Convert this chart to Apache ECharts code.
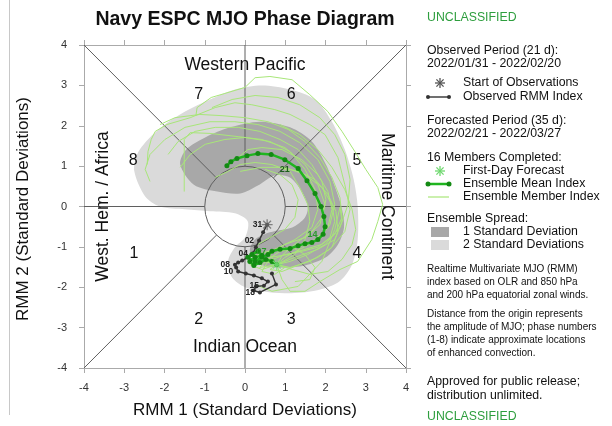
<!DOCTYPE html>
<html><head><meta charset="utf-8">
<script src="https://cdn.jsdelivr.net/npm/echarts/dist/echarts.min.js"></script>
<style>html,body{margin:0;padding:0;background:#fff}#c{width:612px;height:426px}</style>
</head><body><div id="c"></div>
<script>
// ---------- DATA ----------
const xTicks = [-4,-3,-2,-1,0,1,2,3,4];
const yTicks = [-4,-3,-2,-1,0,1,2,3,4];
const phaseNums = ['1','2','3','4','5','6','7','8'];
const phasePos = [[-2.76,-1.16],[-1.15,-2.80],[1.15,-2.80],[2.78,-1.17],[2.78,1.14],[1.15,2.77],[-1.15,2.77],[-2.78,1.14]];
const regionNames = ['Western Pacific','Indian Ocean','West. Hem. / Africa','Maritime Continent'];
const regionPos = [[0,3.49],[0,-3.49],[-3.53,0],[3.53,0]];
const regionRot = [0,0,90,-90];

// observed RMM (2022/01/31 - 2022/02/20)
const obsDays = ['31','01','02','03','04','05','06','07','08','09','10','11','12','13','14','15','16','17','18','19','20'];
const obsX = [0.55,0.45,0.35,0.27,0.20,0.07,-0.07,-0.17,-0.25,-0.22,-0.17,0.02,0.22,0.42,0.57,0.47,0.27,0.22,0.37,0.77,0.67];
const obsY = [-0.45,-0.64,-0.84,-1.01,-1.16,-1.26,-1.34,-1.39,-1.44,-1.51,-1.61,-1.66,-1.71,-1.78,-1.86,-1.96,-1.98,-2.08,-2.13,-1.93,-1.66];
const obsLabelled = ['31','02','04','08','10','15','18'];

// ensemble mean forecast (2022/02/21 - 2022/03/27)
const meanDays = ['21','22','23','24','25','26','27','28','01','02','03','04','05','06','07','08','09','10','11','12','13','14','15','16','17','18','19','20','21','22','23','24','25','26','27'];
const meanX = [0.79,0.67,0.52,0.37,0.22,0.12,0.25,0.42,0.32,0.17,0.07,0.25,0.42,0.57,0.67,0.87,1.12,1.32,1.49,1.66,1.81,1.94,1.99,1.96,1.89,1.74,1.54,1.32,0.99,0.65,0.32,0.05,-0.20,-0.35,-0.45];
const meanY = [-1.44,-1.36,-1.31,-1.39,-1.46,-1.36,-1.26,-1.21,-1.11,-1.19,-1.26,-1.36,-1.26,-1.19,-1.11,-1.06,-1.04,-0.97,-0.92,-0.89,-0.82,-0.69,-0.50,-0.25,0.00,0.32,0.64,0.94,1.16,1.29,1.31,1.26,1.19,1.11,1.01];
const meanLabelIdx = [14,21,28];

// ensemble members
const m01 = [[0.79,-1.44],[0.92,-1.81],[1.12,-2.10],[1.49,-2.10],[1.86,-1.86],[2.36,-1.56],[2.80,-1.36],[3.15,-0.82],[3.30,-0.37],[3.42,0.05],[3.30,0.47],[3.00,0.92],[2.73,1.36],[2.41,1.86],[2.06,2.35],[1.61,2.77],[1.17,3.14],[0.62,3.22],[0.25,3.19],[0.00,2.95],[-0.50,2.80],[-0.84,2.70],[-1.19,2.45],[-1.22,2.25]];
const m02 = [[0.79,-1.44],[1.12,-1.51],[1.61,-1.36],[2.11,-1.06],[2.48,-0.62],[2.61,-0.07],[2.48,0.54],[2.31,1.21],[1.99,1.78],[1.61,2.03],[1.12,2.28],[0.74,2.40],[0.17,2.52],[-0.25,2.57],[-0.74,2.45],[-1.36,2.20],[-1.94,2.03],[-2.23,1.86],[-2.33,1.66],[-2.41,1.36],[-2.43,1.04]];
const m03 = [[0.79,-1.44],[0.99,-1.26],[1.36,-1.06],[1.81,-0.82],[2.11,-0.45],[2.23,0.05],[2.11,0.62],[1.81,1.16],[1.36,1.58],[0.87,1.86],[0.32,2.03],[-0.25,2.10],[-0.87,2.10],[-1.49,1.96],[-1.99,1.66],[-2.36,1.29],[-2.48,0.92],[-2.36,0.62]];
const m04 = [[0.79,-1.44],[0.62,-1.19],[0.99,-0.94],[1.49,-0.77],[1.86,-0.45],[1.99,0.05],[1.81,0.54],[1.49,1.04],[0.99,1.46],[0.42,1.66],[-0.17,1.73],[-0.87,1.81],[-1.36,1.83],[-1.51,1.66],[-1.51,1.16],[-1.51,0.37]];
const m05 = [[0.79,-1.44],[0.42,-1.26],[0.74,-1.06],[1.24,-0.82],[1.66,-0.52],[1.81,-0.07],[1.74,0.42],[1.49,0.92],[1.12,1.36],[0.62,1.61],[0.00,1.71],[-0.50,1.66],[-0.99,1.54],[-1.36,1.29],[-1.61,0.97]];
const m06 = [[0.79,-1.44],[1.24,-1.26],[1.81,-1.06],[2.23,-0.82],[2.41,-0.37],[2.36,-0.02],[2.23,-0.57],[1.91,-1.36],[1.32,-1.98],[0.67,-2.10],[0.25,-1.93]];
const m07 = [[0.79,-1.44],[0.57,-1.31],[0.87,-1.11],[1.32,-1.01],[1.74,-0.82],[2.06,-0.52],[2.16,-0.07],[2.06,0.37],[1.81,0.79],[1.41,1.16],[0.92,1.41],[0.42,1.46],[0.07,1.41],[-0.17,1.21]];
const m08 = [[0.79,-1.44],[0.94,-1.36],[1.24,-1.19],[1.49,-0.82],[1.61,-0.37],[1.56,0.05],[1.36,0.47],[1.12,0.87],[0.67,1.04],[0.25,1.09],[-0.12,1.04],[-0.42,0.87],[-0.74,0.72]];
const m09 = [[0.79,-1.44],[1.17,-1.56],[1.61,-1.68],[2.06,-1.61],[2.41,-1.31],[2.66,-0.94],[2.75,-0.57],[2.66,-0.07],[2.48,0.42],[2.16,0.97],[1.81,1.41],[1.36,1.78],[0.87,2.03]];
const m10 = [[0.79,-1.44],[0.37,-1.51],[0.62,-1.26],[1.07,-1.19],[1.49,-1.06],[1.91,-0.94],[2.23,-0.69],[2.41,-0.27],[2.36,0.22],[2.16,0.72],[1.86,1.21],[1.49,1.61],[1.07,1.91],[0.57,2.10],[0.00,2.20],[-0.57,2.25],[-1.12,2.28],[-1.74,2.20],[-2.11,2.03]];
const m11 = [[0.79,-1.44],[0.50,-1.36],[0.25,-1.19],[0.32,-0.94],[0.62,-0.77],[0.99,-0.57],[1.24,-0.27],[1.32,0.17],[1.17,0.54],[0.87,0.79],[0.50,0.92]];
const m12 = [[0.79,-1.44],[1.12,-1.36],[1.56,-1.19],[1.99,-0.94],[2.36,-0.52],[2.56,0.05],[2.61,0.67],[2.48,1.29],[2.23,1.78],[1.86,2.20],[1.36,2.52],[0.82,2.70],[0.25,2.75],[-0.32,2.65],[-0.82,2.45]];
const m13 = [[0.79,-1.44],[0.42,-1.56],[0.12,-1.44],[0.32,-1.19],[0.74,-1.06],[1.17,-1.01],[1.49,-1.19],[1.74,-1.51],[1.61,-1.81],[1.24,-1.86]];
const m14 = [[0.79,-1.44],[0.94,-1.19],[1.32,-0.87],[1.66,-0.62],[1.91,-0.27],[2.01,0.17],[1.91,0.62],[1.66,1.04],[1.32,1.41],[0.87,1.66],[0.37,1.86],[-0.17,1.96],[-0.74,1.96],[-1.24,1.86],[-1.66,1.61],[-1.91,1.29]];
const m15 = [[0.79,-1.44],[0.62,-1.56],[0.92,-1.61],[1.36,-1.44],[1.81,-1.26],[2.16,-1.01],[2.31,-0.62],[2.26,-0.12],[2.06,0.30],[1.74,0.67],[1.32,0.87],[0.87,0.97]];
const m16 = [[0.79,-1.44],[0.99,-1.51],[0.74,-1.68],[0.42,-1.61],[0.57,-1.36],[0.99,-1.19],[1.41,-1.11],[1.81,-1.01],[2.11,-0.77],[2.23,-0.37],[2.16,0.05],[1.91,0.47],[1.49,0.79],[0.99,0.97],[0.42,0.97],[-0.12,0.87]];
const members = [m01,m02,m03,m04,m05,m06,m07,m08,m09,m10,m11,m12,m13,m14,m15,m16];

// ensemble spread outlines
const spread2sd = [[-2.75,0.87],[-2.68,1.29],[-2.41,1.66],[-1.99,2.03],[-1.49,2.35],[-0.87,2.65],[-0.25,2.90],[0.42,3.00],[1.12,2.90],[1.74,2.65],[2.16,2.10],[2.48,1.41],[2.70,0.67],[2.80,0.00],[2.80,-0.82],[2.66,-1.44],[2.31,-1.88],[1.66,-2.10],[0.99,-2.15],[0.42,-2.10],[0.00,-2.00],[-0.32,-1.76],[-0.42,-1.36],[-0.25,-1.01],[0.00,-0.77],[0.07,-0.37],[-0.25,-0.17],[-0.87,-0.12],[-1.49,-0.07],[-2.11,0.00],[-2.48,0.25]];
const spread1sd = [[-1.61,1.04],[-1.46,1.41],[-0.99,1.71],[-0.37,1.96],[0.37,2.10],[1.12,1.96],[1.66,1.61],[2.01,1.04],[2.26,0.42],[2.41,-0.07],[2.46,-0.52],[2.31,-0.94],[2.01,-1.26],[1.49,-1.46],[0.82,-1.51],[0.32,-1.41],[0.12,-1.11],[0.25,-0.82],[0.62,-0.64],[1.17,-0.52],[1.49,-0.27],[1.56,0.00],[1.41,0.37],[1.12,0.72],[0.74,0.77],[0.32,0.52],[-0.12,0.32],[-0.69,0.37],[-1.27,0.54]];

// phase-space reference lines and unit circle
const refSegs = [[-4,-4,-0.7071,-0.7071],[4,4,0.7071,0.7071],[-4,4,-0.7071,0.7071],[4,-4,0.7071,-0.7071],[0,1,0,4],[0,-1,0,-4],[1,0,4,0],[-1,0,-4,0]];
const unitCircle = [[0,0,1]];

// ---------- STYLE ----------
const FONT = "'Liberation Sans', Arial, Helvetica, sans-serif";
const C_LIGHT = '#dadada', C_DARK = '#a8a8a8';
const C_MEMBER = '#a8e679', C_MEAN = '#1fb51f', C_MEAN_DOT = '#138a13', C_OBS = '#333333';
const C_GREEN_TXT = '#2e9e3e';
const STAR = 'path://M10,0L10,20M0,10L20,10M2.9,2.9L17.1,17.1M2.9,17.1L17.1,2.9';

const chart = echarts.init(document.getElementById('c'));

function polygonSeries(pts, fill){
  return {type:'custom', silent:true, z:1, data: pts, encode:{x:0,y:1},
    renderItem:(params, api)=>{
      if(params.dataIndex!==0) return null;
      return {type:'polygon', shape:{points: pts.map(p=>api.coord(p)), smooth:0.3}, style:{fill}};
    }};
}

function axisBase(pos, showLabel){
  return {type:'value', min:-4, max:4, interval:1, position:pos,
    axisLine:{show:true, onZero:false, lineStyle:{color:'#aaaaaa', width:1}},
    axisTick:{show:true, inside:false, length:5, lineStyle:{color:'#aaaaaa'}},
    axisLabel:{show:showLabel, fontSize:11, color:'#333', fontFamily:FONT, margin:pos==='left'?17:14},
    splitLine:{show:false}};
}

const series = [];
series.push(polygonSeries(spread2sd, C_LIGHT));
series.push(polygonSeries(spread1sd, C_DARK));
series.push({type:'custom', silent:true, z:2, data: refSegs, encode:{x:[0,2], y:[1,3]},
  renderItem:(p, api)=>{
    const a = api.coord([api.value(0), api.value(1)]);
    const b = api.coord([api.value(2), api.value(3)]);
    return {type:'line', shape:{x1:a[0],y1:a[1],x2:b[0],y2:b[1]}, style:{stroke:'#5f5f5f', lineWidth:1}};
  }});
series.push({type:'custom', silent:true, z:2, data: unitCircle, encode:{x:0,y:1},
  renderItem:(p, api)=>{
    const c = api.coord([api.value(0), api.value(1)]);
    const r = api.size([api.value(2), api.value(2)]);
    return {type:'circle', shape:{cx:c[0], cy:c[1], r:r[0]}, style:{fill:'rgba(0,0,0,0)', stroke:'#5f5f5f', lineWidth:1}};
  }});
// region names and phase numbers
series.push({type:'custom', silent:true, z:3, data: regionPos, encode:{x:0,y:1},
  renderItem:(p, api)=>{
    const c = api.coord([api.value(0), api.value(1)]);
    return {type:'text', x:c[0], y:c[1], rotation: regionRot[p.dataIndex]*Math.PI/180,
      style:{text: regionNames[p.dataIndex], fill:'#111', fontSize:17.5, fontFamily:FONT, align:'center', verticalAlign:'middle'}};
  }});
series.push({type:'custom', silent:true, z:3, data: phasePos, encode:{x:0,y:1},
  renderItem:(p, api)=>{
    const c = api.coord([api.value(0), api.value(1)]);
    return {type:'text', x:c[0], y:c[1],
      style:{text: phaseNums[p.dataIndex], fill:'#111', fontSize:16, fontFamily:FONT, align:'center', verticalAlign:'middle'}};
  }});
members.forEach(m=>{
  series.push({type:'line', data:m, symbol:'none', showSymbol:false, silent:true, z:4,
    lineStyle:{color:C_MEMBER, width:1}});
});
series.push({type:'line', z:5, silent:true, symbol:'circle', symbolSize:4,
  itemStyle:{color:C_OBS}, lineStyle:{color:C_OBS, width:1.4},
  data: obsX.map((x,i)=>({value:[x, obsY[i]],
    label:{show: obsLabelled.includes(obsDays[i]), formatter: obsDays[i], position:'left', distance:3,
      fontSize:8.5, fontWeight:'bold', color:'#222', fontFamily:FONT}}))});
series.push({type:'line', z:6, silent:true, symbol:'circle', symbolSize:5,
  itemStyle:{color:C_MEAN_DOT}, lineStyle:{color:C_MEAN, width:2.5},
  data: meanX.map((x,i)=>({value:[x, meanY[i]],
    label:{show: meanLabelIdx.includes(i), formatter: meanDays[i], position: i===28?'bottom':'left', distance:3,
      fontSize:9, fontWeight:'bold', color: i===28?'#1d5e1d':'#2a9a2a', fontFamily:FONT}}))});
// start of observations star & first-day forecast star
series.push({type:'scatter', z:7, silent:true, symbol:STAR, symbolSize:11,
  itemStyle:{color:'rgba(0,0,0,0)', borderColor:'#666', borderWidth:1.3},
  data:[[obsX[0], obsY[0]]]});
series.push({type:'scatter', z:7, silent:true, symbol:STAR, symbolSize:11,
  itemStyle:{color:'rgba(0,0,0,0)', borderColor:'#7be07b', borderWidth:1.3},
  data:[[meanX[0], meanY[0]]]});

// ---------- side panel ----------
const panelX = 427, legX = 463;
const panelText = [
  ['UNCLASSIFIED', panelX, 18, 12.3, C_GREEN_TXT],
  ['Observed Period (21 d):', panelX, 51, 12.3, '#111'],
  ['2022/01/31 - 2022/02/20', panelX, 64, 12.3, '#111'],
  ['Start of Observations', legX, 83, 12.3, '#111'],
  ['Observed RMM Index', legX, 97, 12.3, '#111'],
  ['Forecasted Period (35 d):', panelX, 121, 12.3, '#111'],
  ['2022/02/21 - 2022/03/27', panelX, 134, 12.3, '#111'],
  ['16 Members Completed:', panelX, 158, 12.3, '#111'],
  ['First-Day Forecast', legX, 171, 12.3, '#111'],
  ['Ensemble Mean Index', legX, 184, 12.3, '#111'],
  ['Ensemble Member Index', legX, 197, 12.3, '#111'],
  ['Ensemble Spread:', panelX, 219, 12.3, '#111'],
  ['1 Standard Deviation', legX, 232, 12.3, '#111'],
  ['2 Standard Deviations', legX, 245, 12.3, '#111'],
  ['Realtime Multivariate MJO (RMM)', panelX, 269, 10, '#111'],
  ['index based on OLR and 850 hPa', panelX, 282, 10, '#111'],
  ['and 200 hPa equatorial zonal winds.', panelX, 295, 10, '#111'],
  ['Distance from the origin represents', panelX, 314, 10, '#111'],
  ['the amplitude of MJO; phase numbers', panelX, 327, 10, '#111'],
  ['(1-8) indicate approximate locations', panelX, 340, 10, '#111'],
  ['of enhanced convection.', panelX, 353, 10, '#111'],
  ['Approved for public release;', panelX, 382, 12.3, '#111'],
  ['distribution unlimited.', panelX, 396, 12.3, '#111'],
  ['UNCLASSIFIED', panelX, 417, 12.3, C_GREEN_TXT]
];
function starGraphic(cx, cy, color){
  const r = 5, d = 3.6;
  return [[0,-r,0,r],[-r,0,r,0],[-d,-d,d,d],[-d,d,d,-d]].map(s=>({type:'line',
    shape:{x1:cx+s[0], y1:cy+s[1], x2:cx+s[2], y2:cy+s[3]}, style:{stroke:color, lineWidth:1.3}}));
}
const graphics = [
  {type:'line', shape:{x1:9.5,y1:0,x2:9.5,y2:415}, style:{stroke:'#c8c8c8', lineWidth:1}},
  {type:'text', x:245, y:20, style:{text:'Navy ESPC MJO Phase Diagram', fontSize:19.5, fontWeight:'bold', fontFamily:FONT, fill:'#111', align:'center', verticalAlign:'middle'}},
  {type:'text', x:245, y:410, style:{text:'RMM 1 (Standard Deviations)', fontSize:17, fontFamily:FONT, fill:'#111', align:'center', verticalAlign:'middle'}},
  {type:'text', x:23, y:209, rotation:Math.PI/2, style:{text:'RMM 2 (Standard Deviations)', fontSize:17, fontFamily:FONT, fill:'#111', align:'center', verticalAlign:'middle'}},
  ...starGraphic(440, 83, '#555'),
  {type:'line', shape:{x1:428,y1:97,x2:449,y2:97}, style:{stroke:C_OBS, lineWidth:1.4}},
  {type:'circle', shape:{cx:428,cy:97,r:2}, style:{fill:C_OBS}},
  {type:'circle', shape:{cx:449,cy:97,r:2}, style:{fill:C_OBS}},
  ...starGraphic(440, 171, '#6fd86f'),
  {type:'line', shape:{x1:428,y1:184,x2:449,y2:184}, style:{stroke:C_MEAN, lineWidth:2.5}},
  {type:'circle', shape:{cx:428,cy:184,r:2.5}, style:{fill:C_MEAN_DOT}},
  {type:'circle', shape:{cx:449,cy:184,r:2.5}, style:{fill:C_MEAN_DOT}},
  {type:'line', shape:{x1:428,y1:197,x2:449,y2:197}, style:{stroke:C_MEMBER, lineWidth:1.2}},
  {type:'rect', shape:{x:431,y:227,width:18,height:10}, style:{fill:C_DARK}},
  {type:'rect', shape:{x:431,y:240,width:18,height:10}, style:{fill:C_LIGHT}},
  ...panelText.map(t=>({type:'text', x:t[1], y:t[2], style:{text:t[0], fontSize:t[3], fontFamily:FONT, fill:t[4], align:'left', verticalAlign:'middle'}}))
];

chart.setOption({
  animation:false,
  textStyle:{fontFamily:FONT},
  grid:{left:84, right:206, top:45, bottom:58, containLabel:false},
  xAxis:[axisBase('bottom', true), axisBase('top', false)],
  yAxis:[axisBase('left', true), axisBase('right', false)],
  series: series,
  graphic: graphics
});
</script></body></html>
